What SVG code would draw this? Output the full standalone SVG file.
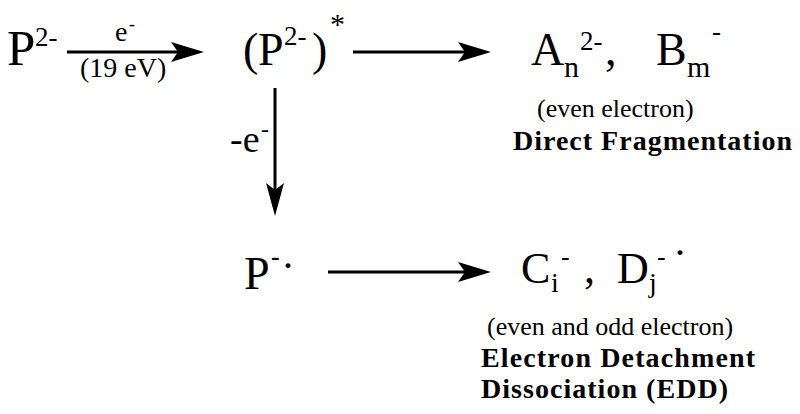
<svg xmlns="http://www.w3.org/2000/svg" width="800" height="414" viewBox="0 0 800 414" font-family="'Liberation Serif', 'Times New Roman', Times, serif">
<style>
text{font-family:'Liberation Serif','Times New Roman',Times,serif;fill:#000}
.big{font-size:46px}
.sup{font-size:27px}
.sub{font-size:30px}
.sm{font-size:26px}
.b{font-weight:bold;font-size:28px}
.ln{stroke:#000;stroke-width:3;fill:none}
.hd{fill:#000}
</style>
<rect width="800" height="414" fill="#fff"/>
<g id="connectors">
<line class="ln" x1="67" y1="52" x2="182" y2="52"/>
<polygon class="hd" points="204,52 171,42 178,52 171,62"/>
<line class="ln" x1="353" y1="52" x2="470" y2="52"/>
<polygon class="hd" points="491,52 458,42 465,52 458,62"/>
<line class="ln" x1="275" y1="88" x2="275" y2="195"/>
<polygon class="hd" points="275,216 266,183 275,190 284,183"/>
<line class="ln" x1="328" y1="272" x2="470" y2="272"/>
<polygon class="hd" points="491,272 458,262 465,272 458,282"/>
</g>
<g id="label-e">
<text><tspan x="115" y="41" style="font-size:28px">e</tspan><tspan x="129" y="30" style="font-size:18px">-</tspan></text>
<text x="80" y="77" style="font-size:28px">(19 eV)</text>
</g>
<g id="label-minus-e">
<text><tspan x="230" y="152" style="font-size:38px">-e</tspan><tspan x="261" y="137" style="font-size:24px">-</tspan></text>
</g>
<g id="node-P2">
<text><tspan x="7" y="65" style="font-size:51px">P</tspan><tspan x="35" y="46" class="sup">2-</tspan></text>
</g>
<g id="node-P2-excited">
<text><tspan x="243" y="65" class="big">(</tspan><tspan x="258" y="65" class="big">P</tspan><tspan x="284" y="45" class="sup">2-</tspan><tspan x="312" y="65" class="big">)</tspan><tspan x="330" y="34" style="font-size:30px">*</tspan></text>
</g>
<g id="node-direct">
<text><tspan x="531" y="65" class="big">A</tspan><tspan x="564" y="77" class="sub">n</tspan><tspan x="580" y="50" class="sup">2-</tspan><tspan x="605" y="65" class="big">,</tspan><tspan x="656" y="65" class="big">B</tspan><tspan x="687" y="77" class="sub">m</tspan><tspan x="712" y="40" class="sup">-</tspan></text>
<text x="537" y="117" class="sm">(even electron)</text>
<text x="513" y="150" class="b" textLength="279" lengthAdjust="spacing">Direct Fragmentation</text>
</g>
<g id="node-P-radical">
<text><tspan x="244" y="289" class="big">P</tspan><tspan x="271" y="265" style="font-size:26px;font-weight:bold">-</tspan><tspan x="283" y="275" style="font-size:30px;font-weight:bold">·</tspan></text>
</g>
<g id="node-edd">
<text><tspan x="521" y="283" style="font-size:44px">C</tspan><tspan x="551" y="292" style="font-size:28px">i</tspan><tspan x="561" y="265" style="font-size:26px">-</tspan><tspan x="584" y="283" style="font-size:44px">,</tspan><tspan x="617" y="283" style="font-size:44px">D</tspan><tspan x="649" y="292" style="font-size:28px">j</tspan><tspan x="657" y="265" style="font-size:26px">-</tspan><tspan x="675" y="262" style="font-size:30px;font-weight:bold">·</tspan></text>
<text x="487" y="335" class="sm">(even and odd electron)</text>
<text x="481" y="367" class="b" textLength="274" lengthAdjust="spacing">Electron Detachment</text>
<text x="481" y="398" class="b" textLength="247" lengthAdjust="spacing">Dissociation (EDD)</text>
</g>
</svg>
